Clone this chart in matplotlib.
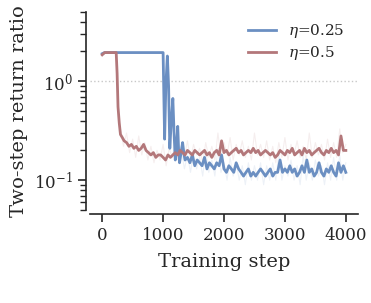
import numpy as np
import matplotlib
matplotlib.use("Agg")
import matplotlib.pyplot as plt
import matplotlib.ticker as mtick

# *******************
# Data
# *******************
blue_label = r"$\eta$=0.25"
red_label = r"$\eta$=0.5"

# eta = 0.25, smoothed curve
blue_steps = (
    list(range(0, 1001, 40))
    + [1025, 1045, 1070, 1090, 1110, 1135, 1160, 1180, 1200, 1220, 1240, 1255, 1270, 1295, 1320, 1345]
    + list(range(1360, 4001, 40))
)
blue_values = (
    [1.9, 1.95, 1.95, 1.95, 1.95, 1.95, 1.95, 1.95, 1.95, 1.95,
     1.95, 1.95, 1.95, 1.95, 1.95, 1.95, 1.95, 1.95, 1.95, 1.95,
     1.95, 1.95, 1.95, 1.95, 1.95, 1.95]
    + [0.26, 0.9, 1.8, 0.9, 0.21, 0.4, 0.67, 0.3, 0.16, 0.22, 0.35, 0.2, 0.15, 0.19, 0.24, 0.18]
    + [0.16, 0.17, 0.15, 0.18, 0.14, 0.16, 0.15, 0.14, 0.17, 0.13,
       0.15, 0.14, 0.13, 0.15, 0.14, 0.18, 0.13, 0.12, 0.14, 0.13,
       0.12, 0.15, 0.13, 0.12, 0.11, 0.12, 0.13, 0.11, 0.12, 0.11,
       0.12, 0.13, 0.12, 0.11, 0.12, 0.13, 0.11, 0.12, 0.12, 0.16,
       0.12, 0.13, 0.12, 0.14, 0.12, 0.13, 0.11, 0.12, 0.14, 0.12,
       0.16, 0.12, 0.13, 0.11, 0.12, 0.15, 0.12, 0.11, 0.13, 0.12,
       0.14, 0.12, 0.11, 0.15, 0.12, 0.14, 0.12]
)

# eta = 0.5, smoothed curve
red_steps = (
    list(range(0, 201, 40))
    + [230, 245, 260, 280, 300, 330, 360]
    + list(range(400, 4001, 40))
)
red_values = (
    [1.85, 1.95, 1.95, 1.95, 1.95, 1.95]
    + [1.95, 1.2, 0.55, 0.38, 0.29, 0.27, 0.25]
    + [0.24, 0.22, 0.23, 0.21, 0.22, 0.2, 0.21, 0.23, 0.2, 0.19,
       0.18, 0.19, 0.17, 0.18, 0.18, 0.17, 0.16, 0.18, 0.17, 0.18,
       0.19, 0.18, 0.2, 0.19, 0.18, 0.2, 0.19, 0.18, 0.2, 0.19,
       0.18, 0.19, 0.2, 0.18, 0.19, 0.17, 0.19, 0.2, 0.18, 0.25,
       0.19, 0.2, 0.18, 0.19, 0.2, 0.21, 0.19, 0.2, 0.18, 0.19,
       0.2, 0.19, 0.21, 0.19, 0.2, 0.18, 0.19, 0.2, 0.19, 0.18,
       0.19, 0.17, 0.18, 0.2, 0.19, 0.18, 0.2, 0.19, 0.21, 0.18,
       0.19, 0.2, 0.18, 0.21, 0.19, 0.2, 0.18, 0.19, 0.2, 0.21,
       0.19, 0.18, 0.2, 0.19, 0.21, 0.19, 0.2, 0.18, 0.28, 0.2,
       0.2]
)

# faint raw (unsmoothed) curves
red_raw_steps = list(range(300, 4001, 50))
red_raw_values = [
    0.33, 0.22, 0.3, 0.19, 0.26, 0.17, 0.28, 0.18, 0.24, 0.16,
    0.22, 0.15, 0.2, 0.16, 0.23, 0.14, 0.21, 0.17, 0.24, 0.16,
    0.22, 0.17, 0.25, 0.16, 0.23, 0.18, 0.21, 0.15, 0.24, 0.17,
    0.22, 0.16, 0.3, 0.17, 0.24, 0.18, 0.27, 0.16, 0.23, 0.18,
    0.25, 0.17, 0.22, 0.16, 0.3, 0.18, 0.23, 0.17, 0.25, 0.16,
    0.22, 0.15, 0.24, 0.17, 0.27, 0.16, 0.23, 0.18, 0.25, 0.17,
    0.22, 0.16, 0.3, 0.17, 0.24, 0.18, 0.23, 0.16, 0.26, 0.17,
    0.24, 0.17, 0.33, 0.19, 0.23,
]
blue_raw_steps = list(range(1300, 4001, 50))
blue_raw_values = [
    0.2, 0.13, 0.18, 0.12, 0.19, 0.13, 0.17, 0.11, 0.2, 0.12,
    0.16, 0.11, 0.21, 0.12, 0.15, 0.1, 0.17, 0.11, 0.15, 0.1,
    0.14, 0.09, 0.15, 0.1, 0.14, 0.1, 0.15, 0.09, 0.14, 0.1,
    0.15, 0.1, 0.19, 0.1, 0.14, 0.11, 0.16, 0.1, 0.14, 0.09,
    0.18, 0.1, 0.15, 0.1, 0.16, 0.11, 0.14, 0.09, 0.15, 0.1,
    0.17, 0.1, 0.18, 0.1, 0.15,
]

BLUE = "#6b8fc2"
RED = "#b3777a"

# *******************
# Style
# *******************
plt.rcParams["font.family"] = ["DejaVu Serif"]
plt.rcParams["mathtext.fontset"] = "dejavuserif"
plt.rcParams["axes.edgecolor"] = "#262626"
plt.rcParams["xtick.color"] = "#262626"
plt.rcParams["ytick.color"] = "#262626"
plt.rcParams["text.color"] = "#262626"
plt.rcParams["axes.labelcolor"] = "#262626"

fig = plt.figure(figsize=(3.71, 3.03), dpi=100)
ax = fig.add_axes([0.2426, 0.307, 0.7224, 0.653])

ax.axhline(1.0, color="#c8c8c8", linestyle=":", linewidth=1.0, zorder=1)

ax.plot(red_raw_steps, red_raw_values, color=RED, alpha=0.12, linewidth=0.8, zorder=2)
ax.plot(blue_raw_steps, blue_raw_values, color=BLUE, alpha=0.12, linewidth=0.8, zorder=2)

ax.plot(blue_steps, blue_values, color=BLUE, linewidth=2.0, label=blue_label, zorder=3)
ax.plot(red_steps, red_values, color=RED, linewidth=2.0, label=red_label, zorder=4)

ax.set_yscale("log")
ax.set_ylim(0.05, 5)
ax.set_xlim(-200, 4200)
ax.set_xticks([0, 1000, 2000, 3000, 4000])
ax.yaxis.set_major_locator(mtick.LogLocator(base=10, numticks=10))
ax.yaxis.set_minor_locator(mtick.LogLocator(base=10, subs=np.arange(2, 10), numticks=10))
ax.yaxis.set_minor_formatter(mtick.NullFormatter())

ax.set_xlabel("Training step", fontsize=14, labelpad=6)
ax.set_ylabel("Two-step return ratio", fontsize=14)
ax.tick_params(axis="both", which="major", labelsize=12, length=6, width=1.2)
ax.tick_params(axis="y", which="minor", length=4, width=1.0)

# despine with small offset, like seaborn
for side in ["top", "right"]:
    ax.spines[side].set_visible(False)
ax.spines["left"].set_position(("outward", 3))
ax.spines["bottom"].set_position(("outward", 3))
ax.spines["left"].set_linewidth(1.2)
ax.spines["bottom"].set_linewidth(1.2)

ax.legend(loc="upper right", frameon=False, fontsize=11, handlelength=1.8,
          labelspacing=0.3, bbox_to_anchor=(1.0, 1.02))

fig.savefig("out.png", dpi=100)
